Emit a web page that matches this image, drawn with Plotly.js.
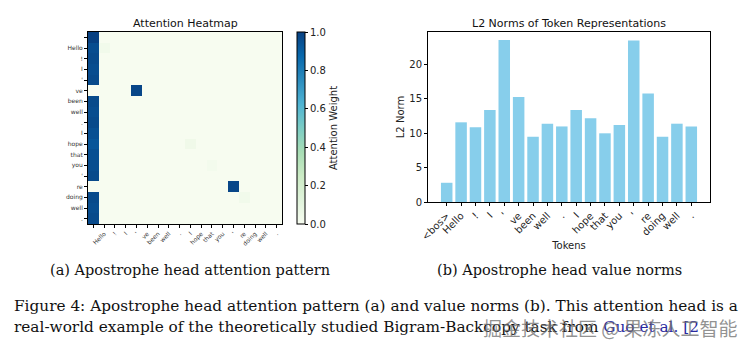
<!DOCTYPE html>
<html>
<head>
<meta charset="utf-8">
<script src="https://cdn.plot.ly/plotly-3.0.1.min.js"></script>
<style>html,body{margin:0;padding:0;background:#fff;}#chart{width:754px;height:352px;}</style>
</head>
<body>
<div id="chart"></div>
<script>
// ---------- data ----------
const heatTokens = ["", "Hello", "!", "I", "'", "ve", "been", "well", ".", "I", "hope", "that", "you", "'", "re", "doing", "well", "."];
const barTokens = ["<bos>", "Hello", "!", "I", "'", "ve", "been", "well", ".", "I", "hope", "that", "you", "'", "re", "doing", "well", "."];
// attention each query row gives to the first (<bos>) token
const bosAttention = [1.0, 0.96, 0.97, 0.96, 0.97, 0.0, 0.97, 0.96, 0.97, 0.95, 0.93, 0.95, 0.96, 0.97, 0.0, 0.97, 0.96, 0.97];
// strong off-column cells: [row, col, weight]
const peakCells = [[5, 4, 0.98], [14, 13, 0.98]];
// faint background cells: [row, col, weight]
const faintCells = [[1, 1, 0.03], [10, 9, 0.04], [15, 14, 0.03], [12, 11, 0.02]];
// L2 norms of token representations
const l2Norms = [2.8, 11.6, 10.9, 13.4, 23.6, 15.3, 9.5, 11.4, 11.0, 13.4, 12.2, 10.0, 11.2, 23.5, 15.8, 9.5, 11.4, 11.0];

// ---------- build matrix ----------
const n = heatTokens.length;
const idx = heatTokens.map((_, i) => i);
const z = [];
for (let r = 0; r < n; r++) {
  const row = new Array(n).fill(0);
  row[0] = bosAttention[r];
  z.push(row);
}
faintCells.forEach(([r, c, v]) => { z[r][c] = v; });
peakCells.forEach(([r, c, v]) => { z[r][c] = v; });

const GnBu = [
  [0.0, "#f7fcf0"], [0.125, "#e0f3db"], [0.25, "#ccebc5"], [0.375, "#a8ddb5"],
  [0.5, "#7bccc4"], [0.625, "#4eb3d3"], [0.75, "#2b8cbe"], [0.875, "#0868ac"], [1.0, "#084081"]
];

const W = 754, H = 352;
const px = v => v / W, py = v => 1 - v / H;

const sans = "DejaVu Sans, sans-serif";
const serif = "DejaVu Serif, serif";

const heat = {
  type: "heatmap", x: idx, y: idx, z: z,
  colorscale: GnBu, zmin: 0, zmax: 1,
  xaxis: "x", yaxis: "y",
  hoverinfo: "skip",
  colorbar: {
    x: px(297), xanchor: "left", xpad: 0, y: py(32), yanchor: "top", ypad: 0,
    len: 192, lenmode: "pixels", thickness: 8,
    outlinecolor: "#000", outlinewidth: 1,
    ticks: "outside", ticklen: 3, tickcolor: "#000",
    tickvals: [0, 0.2, 0.4, 0.6, 0.8, 1.0], tickformat: ".1f",
    tickfont: {family: sans, size: 10, color: "#222"},
    title: {text: "Attention Weight", side: "right", font: {family: sans, size: 10, color: "#222"}}
  }
};

const bars = {
  type: "bar", x: idx, y: l2Norms, width: 0.8,
  marker: {color: "#87ceeb"},
  xaxis: "x2", yaxis: "y2", hoverinfo: "skip"
};

const frame = {showline: true, mirror: true, linecolor: "#000", linewidth: 1, showgrid: false, zeroline: false, automargin: false};

const layout = {
  width: W, height: H,
  margin: {l: 0, r: 0, t: 0, b: 0},
  paper_bgcolor: "#fff", plot_bgcolor: "#fff",
  showlegend: false,
  xaxis: Object.assign({}, frame, {
    domain: [px(88), px(282)], range: [-0.5, 17.5],
    tickvals: idx, ticktext: heatTokens, tickangle: -45,
    ticks: "outside", ticklen: 3, tickcolor: "#000",
    tickfont: {family: sans, size: 6, color: "#333"}
  }),
  yaxis: Object.assign({}, frame, {
    domain: [py(224), py(32)], range: [17.5, -0.5],
    tickvals: idx, ticktext: heatTokens,
    ticks: "outside", ticklen: 3, tickcolor: "#000",
    tickfont: {family: sans, size: 6, color: "#333"}
  }),
  xaxis2: Object.assign({}, frame, {
    domain: [px(428), px(710)], range: [-1.3, 18.3], anchor: "y2",
    tickvals: idx, ticktext: barTokens, tickangle: -45,
    ticks: "outside", ticklen: 3, tickcolor: "#000",
    tickfont: {family: sans, size: 10, color: "#222"},
    title: {text: "Tokens", standoff: 0, font: {family: sans, size: 10, color: "#222"}}
  }),
  yaxis2: Object.assign({}, frame, {
    domain: [py(202), py(32)], range: [0, 24.75], anchor: "x2",
    tickvals: [0, 5, 10, 15, 20],
    ticks: "outside", ticklen: 3, tickcolor: "#000",
    tickfont: {family: sans, size: 10, color: "#222"},
    title: {text: "L2 Norm", standoff: 2, font: {family: sans, size: 10, color: "#222"}}
  }),
  annotations: [
    {text: "Attention Heatmap", xref: "paper", yref: "paper", x: px(185), y: py(24), xanchor: "center", yanchor: "middle", showarrow: false, font: {family: sans, size: 11, color: "#111"}},
    {text: "L2 Norms of Token Representations", xref: "paper", yref: "paper", x: px(569), y: py(24), xanchor: "center", yanchor: "middle", showarrow: false, font: {family: sans, size: 11, color: "#111"}},
    {text: "(a) Apostrophe head attention pattern", xref: "paper", yref: "paper", x: px(190), y: py(270), xanchor: "center", yanchor: "middle", showarrow: false, font: {family: serif, size: 14.5, color: "#111"}},
    {text: "(b) Apostrophe head value norms", xref: "paper", yref: "paper", x: px(559), y: py(270), xanchor: "center", yanchor: "middle", showarrow: false, font: {family: serif, size: 14.5, color: "#111"}},
    {text: "Figure 4: Apostrophe head attention pattern (a) and value norms (b). This attention head is a", xref: "paper", yref: "paper", x: px(12), y: py(306), xanchor: "left", yanchor: "middle", showarrow: false, font: {family: serif, size: 15.3, color: "#111"}},
    {text: "real-world example of the theoretically studied Bigram-Backcopy task from <span style='color:#2a2aa0'>Guo et al. [2</span>", xref: "paper", yref: "paper", x: px(12), y: py(327), xanchor: "left", yanchor: "middle", showarrow: false, font: {family: serif, size: 15.3, color: "#111"}},
    {text: "掘金技术社区 @ 果冻人工智能", xref: "paper", yref: "paper", x: px(740), y: py(327), xanchor: "right", yanchor: "middle", showarrow: false, font: {family: "Noto Sans CJK SC, sans-serif", size: 19, color: "rgba(110,110,110,0.75)"}}
  ]
};

Plotly.newPlot("chart", [heat, bars], layout, {staticPlot: true, displayModeBar: false});
</script>
</body>
</html>
